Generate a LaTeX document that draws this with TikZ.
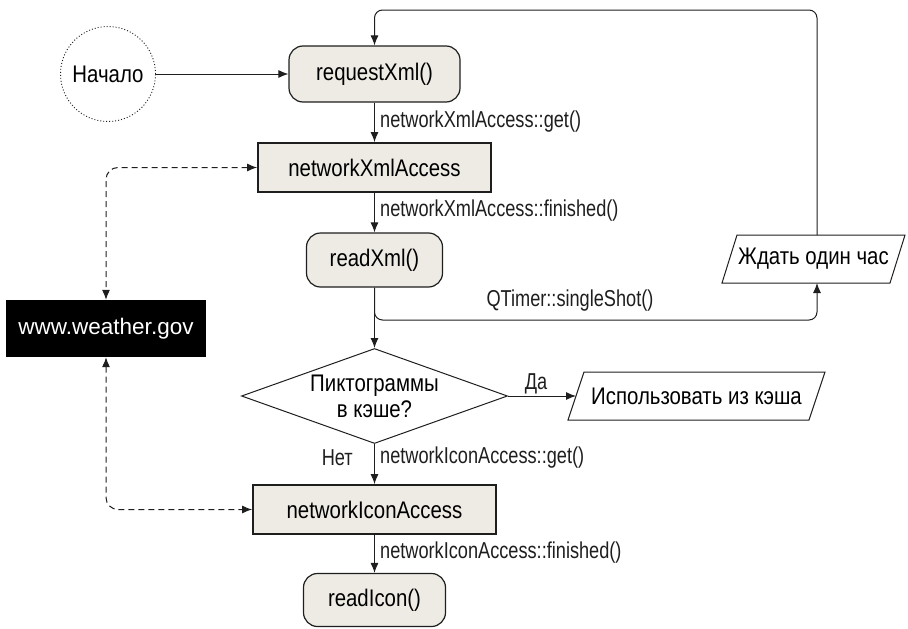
\documentclass[tikz,border=0pt]{standalone}
\usepackage{fontspec}
\setmainfont{Liberation Sans}[FakeStretch=0.85]
\newfontfamily\lblfont{Liberation Sans}[FakeStretch=0.79]
\newfontfamily\wwwfont{Liberation Sans}[FakeStretch=1.0]
\usetikzlibrary{arrows.meta,shapes.geometric}
\definecolor{boxfill}{RGB}{237,235,228}
\definecolor{ink}{RGB}{30,30,30}
\begin{document}
\begin{tikzpicture}[x=1pt,y=-1pt,
  font=\fontsize{24}{26}\selectfont,
  func/.style={draw=ink, line width=1.2pt, fill=boxfill, rounded corners=14pt, inner sep=0pt},
  obj/.style={draw=ink, line width=1.8pt, fill=boxfill, inner sep=0pt},
  conn/.style={draw=ink, line width=1pt, -{Latex[length=10pt,width=8pt]}},
  dconn/.style={draw=ink, line width=1pt, dash pattern=on 6pt off 4pt, {Latex[length=10pt,width=8pt]}-{Latex[length=10pt,width=8pt]}, rounded corners=12pt},
  lbl/.style={anchor=west, inner sep=0pt, text=ink, font=\lblfont\fontsize{23}{25}\selectfont},
  lblc/.style={inner sep=0pt, text=ink, font=\lblfont\fontsize{23}{25}\selectfont},
  para/.style={draw=ink, line width=1pt}
]
\useasboundingbox (0,0) rectangle (908,629);

% nodes
\node[circle, draw=ink, dash pattern=on 1pt off 2pt, line width=0.9pt, minimum size=95pt, inner sep=0pt] (start) at (108,74) {Начало};
\node[func, minimum width=171pt, minimum height=56pt] (req) at (374.5,74) {requestXml()};
\node[obj, minimum width=233pt, minimum height=49pt] (nxa) at (374.5,167.5) {networkXmlAccess};
\node[func, minimum width=136pt, minimum height=54pt] (rx) at (374.5,260) {readXml()};
\node[fill=black, text=white, minimum width=200pt, minimum height=57pt, inner sep=0pt, font=\wwwfont\fontsize{22.5}{25}\selectfont] (www) at (106,328.5) {www.weather.gov};
\node[diamond, draw=ink, line width=1pt, aspect=2.8, minimum width=266pt, minimum height=95pt, inner sep=0pt, align=center] (dec) at (374.5,396) {Пиктограммы\\в кэше?};
\node[obj, minimum width=243pt, minimum height=49pt] (nia) at (374.5,509.5) {networkIconAccess};
\node[func, minimum width=142pt, minimum height=53pt] (ri) at (374.5,600) {readIcon()};

% parallelograms
\draw[para] (722,283) -- (737,235) -- (905,235) -- (890,283) -- cycle;
\node[inner sep=0pt] (wait) at (813.5,259) {Ждать один час};
\coordinate (waitN) at (817,235);
\coordinate (waitS) at (817,283);
\draw[para] (568,420) -- (584,372) -- (825,372) -- (809,420) -- cycle;
\node[inner sep=0pt] (cache) at (696.5,396) {Использовать из кэша};
\coordinate (cacheW) at (576,396);

% connectors
\draw[conn] (start.east) -- (req.west);
\draw[conn] (req.south) -- (nxa.north);
\draw[conn] (nxa.south) -- (rx.north);
\draw[conn] (rx.south) -- (dec.north);
\draw[conn] (dec.south) -- (nia.north);
\draw[conn] (nia.south) -- (ri.north);
\draw[conn] (dec.east) -- (cacheW);
\draw[conn, rounded corners=8pt] (waitN) -- (waitN |- 0,10) -- (req.north |- 0,10) -- (req.north);
\draw[conn, rounded corners=8pt] (rx.south) |- (waitS |- 0,320) -- (waitS);
\draw[dconn] (nxa.west) -| (www.north);
\draw[dconn] (www.south) |- (nia.west);

% labels
\node[lbl] (l1) at (380,122) {networkXmlAccess::get()};
\node[lbl] (l2) at (380,211) {networkXmlAccess::finished()};
\node[lblc] (l3) at (570,301) {QTimer::singleShot()};
\node[lblc] (l4) at (536,384) {Да};
\node[lblc, anchor=east] (l5) at (353,458) {Нет};
\node[lbl] (l6) at (380,458) {networkIconAccess::get()};
\node[lbl] (l7) at (380,553) {networkIconAccess::finished()};
\end{tikzpicture}
\end{document}
